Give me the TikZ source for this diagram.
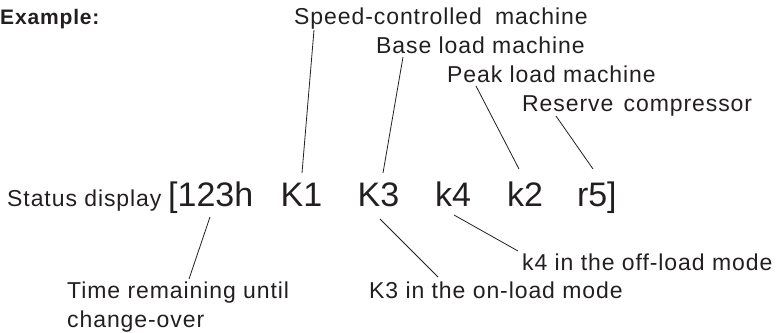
\documentclass[tikz,border=0pt]{standalone}
\usepackage{fontspec}
\setmainfont{Liberation Sans}
\newfontfamily\lblfont[LetterSpace=4]{Liberation Sans}
\usepackage{xcolor}
\usepackage{tikz}
\definecolor{inkgray}{HTML}{231F20}
\tikzset{
  lbl/.style={anchor=base west, inner sep=0pt, text=inkgray, font=\lblfont\fontsize{23}{29}\selectfont},
  hdr/.style={lbl, font=\lblfont\bfseries\fontsize{21}{24}\selectfont},
  big/.style={anchor=base west, inner sep=0pt, text=inkgray, font=\fontsize{34}{40}\selectfont},
  lead/.style={draw=inkgray, line width=0.8pt}
}

\begin{document}
\begin{tikzpicture}[x=1pt,y=-1pt]
\useasboundingbox (0,0) rectangle (778,332);
% heading
\node[hdr] (example) at (0,24) {Example:};
% machine labels above
\node[lbl] (speed) at (294,24) {Speed-controlled\hspace{6pt} machine};
\node[lbl] (base) at (376,53) {Base load machine};
\node[lbl] (peak) at (447,82) {Peak load machine};
\node[lbl] (reserve) at (522,111) {Reserve\hspace{3pt} compressor};
% status line
\node[lbl] (status) at (7,206) {Status display};
\node[big] (t123) at (168,206) {[123h};
\node[big] (K1) at (280.5,206) {K1};
\node[big] (K3) at (357.5,206) {K3};
\node[big] (k4) at (434.8,206) {k4};
\node[big] (k2) at (506.8,206) {k2};
\node[big] (r5) at (576.8,206) {r5]};
% labels below
\node[lbl, align=left] (time) at (67,327) {Time remaining until\\change-over};
\node[lbl] (onload) at (369,298) {K3 in the on-load mode};
\node[lbl] (offload) at (522,270) {k4 in the off-load mode};
% leader lines
\draw[lead] ([shift={(20,6)}]speed.base west) -- ([shift={(21.5,-33)}]K1.base west);
\draw[lead] ([shift={(27,4)}]base.base west) -- ([shift={(25.5,-33)}]K3.base west);
\draw[lead] ([shift={(29,4)}]peak.base west) -- ([shift={(12.2,-37)}]k2.base west);
\draw[lead] ([shift={(34,5)}]reserve.base west) -- ([shift={(16.2,-37)}]r5.base west);
\draw[lead] ([shift={(42,11)}]t123.base west) -- ([shift={(122,-48)}]time.base west);
\draw[lead] ([shift={(22.5,13)}]K3.base west) -- ([shift={(69,-21)}]onload.base west);
\draw[lead] ([shift={(19.2,9)}]k4.base west) -- ([shift={(-4,-19)}]offload.base west);
\end{tikzpicture}
\end{document}
